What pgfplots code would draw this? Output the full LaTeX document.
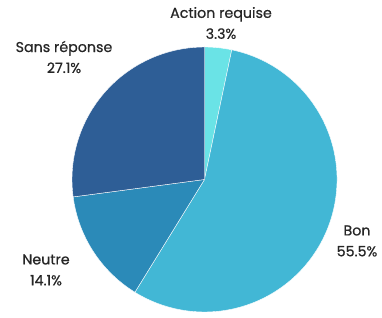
\documentclass[border=0pt]{standalone}
\usepackage{fontspec}
\setmainfont{Poppins}[FakeBold=0.6]
\usepackage{pgfplots}
\usepackage{pgfplotstable}
\pgfplotsset{compat=1.18}
\definecolor{c0}{HTML}{6AE3E6}
\definecolor{c1}{HTML}{42B7D5}
\definecolor{c2}{HTML}{2B8AB8}
\definecolor{c3}{HTML}{2E5E96}
\definecolor{txt}{HTML}{262626}
\pgfplotstableread{
label value
{Action requise} 3.3
Bon 55.5
Neutre 14.1
{Sans réponse} 27.1
}\piedata
\begin{document}
\begin{tikzpicture}
\begin{axis}[
  x=1bp, y=1bp, scale only axis,
  xmin=0, xmax=382, ymin=0, ymax=312,
  hide axis, clip=false,
]
\path (axis cs:0,0) rectangle (axis cs:382,312);
\def\startang{90}
\pgfplotsforeachungrouped \i in {0,...,3}{%
  \pgfplotstablegetelem{\i}{value}\of\piedata
  \pgfmathsetmacro{\endang}{\startang - 3.6*\pgfplotsretval}%
  \edef\tmp{\noexpand\fill[fill=c\i, draw=white, line width=0.4pt, line join=round]
    (axis cs:204.5,132.5) -- ++(\startang:132.5bp)
    arc[start angle=\startang, end angle=\endang, radius=132.5bp] -- cycle;}%
  \tmp
  \global\let\startang\endang
}
\begin{scope}[every node/.style={text=txt, font=\fontsize{14.3}{21}\selectfont, align=center, inner sep=0pt}]
\node at (axis cs:221,289) {Action requise\\3.3\%};
\node at (axis cs:64,255) {Sans réponse\\27.1\%};
\node at (axis cs:46,42) {Neutre\\14.1\%};
\node at (axis cs:357,71) {Bon\\55.5\%};
\end{scope}
\end{axis}
\end{tikzpicture}
\end{document}
